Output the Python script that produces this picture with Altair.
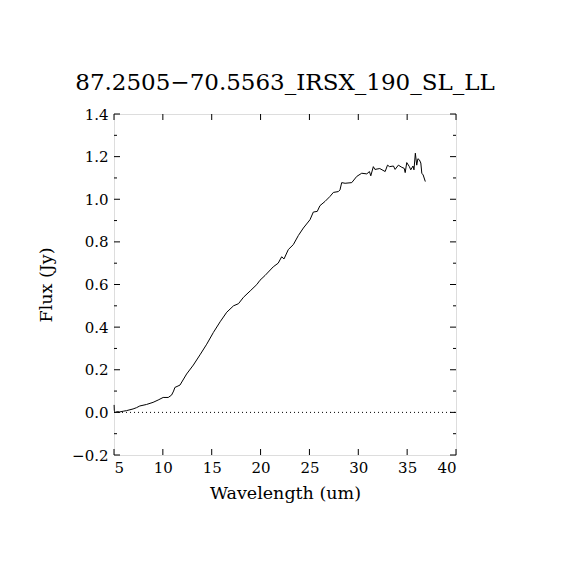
import altair as alt
import pandas as pd

TITLE = "87.2505\u221270.5563_IRSX_190_SL_LL"

wavelength = [5.01, 5.03, 5.07, 5.15, 5.3, 5.58, 6.0, 6.27, 6.95, 7.3, 7.64, 8.32, 9.0, 9.52,
              10.03, 10.55, 10.89, 11.1, 11.23, 11.75, 12.43, 13.12, 13.8, 14.49, 15.17,
              15.86, 16.54, 17.23, 17.74, 18.25, 18.94, 19.62, 19.94, 20.45, 21.3, 21.8,
              22.16, 22.4, 22.84, 23.35, 23.87, 24.38, 25.06, 25.4, 25.8, 26.08, 26.6,
              27.1, 27.45, 27.96, 28.13, 28.3, 28.65, 29.33, 29.84, 30.35, 30.87, 31.14,
              31.28, 31.54, 31.7, 32.2, 32.75, 32.99, 33.2, 33.6, 33.77, 34.1, 34.45,
              34.7, 34.8, 34.96, 35.23, 35.37, 35.6, 35.7, 35.84, 35.98, 36.1, 36.25,
              36.4, 36.5, 36.64, 36.86]
flux = [0.035, 0.01, 0.004, 0.0, 0.003, 0.002, 0.006, 0.008, 0.016, 0.022, 0.03, 0.037, 0.047, 0.058,
        0.07, 0.07, 0.081, 0.1, 0.117, 0.128, 0.18, 0.222, 0.27, 0.32, 0.375,
        0.425, 0.47, 0.50, 0.51, 0.54, 0.57, 0.60, 0.62, 0.642, 0.683, 0.70,
        0.73, 0.72, 0.764, 0.787, 0.83, 0.865, 0.904, 0.94, 0.943, 0.97, 0.99,
        1.013, 1.032, 1.036, 1.044, 1.078, 1.075, 1.078, 1.107, 1.122, 1.119, 1.13,
        1.11, 1.153, 1.14, 1.144, 1.13, 1.16, 1.153, 1.156, 1.14, 1.16, 1.15,
        1.145, 1.125, 1.172, 1.153, 1.138, 1.156, 1.138, 1.216, 1.16, 1.19, 1.185,
        1.17, 1.122, 1.114, 1.083]

x_ticks = [5, 10, 15, 20, 25, 30, 35, 40]
y_major = [-0.2, 0.0, 0.2, 0.4, 0.6, 0.8, 1.0, 1.2, 1.4]
y_minor = [-0.1, 0.1, 0.3, 0.5, 0.7, 0.9, 1.1, 1.3]
zero_line = [0.0]

W, H = 342, 341
FONT = "DejaVu Serif"

xs = alt.Scale(domain=[5, 40], nice=False, zero=False)
ys = alt.Scale(domain=[-0.2, 1.4], nice=False, zero=False)

spec = pd.DataFrame({"w": wavelength, "f": flux})
xt = pd.DataFrame({"x": x_ticks})
ymj = pd.DataFrame({"y": y_major})
ymn = pd.DataFrame({"y": y_minor})
zl = pd.DataFrame({"y": zero_line})

line = alt.Chart(spec).mark_line(color="black", strokeWidth=1, interpolate="linear").encode(
    x=alt.X("w:Q", scale=xs, axis=alt.Axis(
        title="Wavelength (um)", values=x_ticks, ticks=False, domain=False, grid=False,
        labelFont=FONT, labelFontSize=15, labelColor="black", labelPadding=5,
        titleFont=FONT, titleFontSize=17.5, titleFontWeight="normal", titleColor="black",
        titleBaseline="alphabetic", titleY=43, titleX=W / 2, titleAlign="center")),
    y=alt.Y("f:Q", scale=ys, axis=alt.Axis(
        title="Flux (Jy)", values=y_major, format=".1f", ticks=False, domain=False, grid=False,
        labelFont=FONT, labelFontSize=15, labelColor="black", labelPadding=6,
        titleFont=FONT, titleFontSize=17.5, titleFontWeight="normal", titleColor="black",
        titleBaseline="alphabetic", titleX=-63, titleY=H / 2, titleAlign="center", titleAngle=270)),
)

zero = alt.Chart(zl).mark_rule(color="black", strokeWidth=1, strokeDash=[1, 3]).encode(
    y=alt.Y("y:Q", scale=ys), x=alt.value(0), x2=alt.value(W))

tb = alt.Chart(xt).mark_rule(color="black", strokeWidth=1).encode(
    x=alt.X("x:Q", scale=xs), y=alt.value(H), y2=alt.value(H - 6))
tt = alt.Chart(xt).mark_rule(color="black", strokeWidth=1).encode(
    x=alt.X("x:Q", scale=xs), y=alt.value(0), y2=alt.value(6))
yl = alt.Chart(ymj).mark_rule(color="black", strokeWidth=1).encode(
    y=alt.Y("y:Q", scale=ys), x=alt.value(0), x2=alt.value(6))
yr = alt.Chart(ymj).mark_rule(color="black", strokeWidth=1).encode(
    y=alt.Y("y:Q", scale=ys), x=alt.value(W), x2=alt.value(W - 6))
yln = alt.Chart(ymn).mark_rule(color="black", strokeWidth=1).encode(
    y=alt.Y("y:Q", scale=ys), x=alt.value(0), x2=alt.value(3))
yrn = alt.Chart(ymn).mark_rule(color="black", strokeWidth=1).encode(
    y=alt.Y("y:Q", scale=ys), x=alt.value(W), x2=alt.value(W - 3))

chart = alt.layer(line, zero, tb, tt, yl, yr, yln, yrn).properties(
    width=W, height=H,
    title=alt.TitleParams(TITLE, font=FONT, fontSize=23, fontWeight="normal", color="black",
                          anchor="middle", baseline="alphabetic", offset=24, dy=30),
    autosize=alt.AutoSizeParams(type="none"),
    padding={"left": 106, "top": 106, "right": 50, "bottom": 100},
).configure_view(stroke="black", strokeWidth=1).configure(background="white")

chart.save("out.html", embed_options={"renderer": "svg", "actions": False})
